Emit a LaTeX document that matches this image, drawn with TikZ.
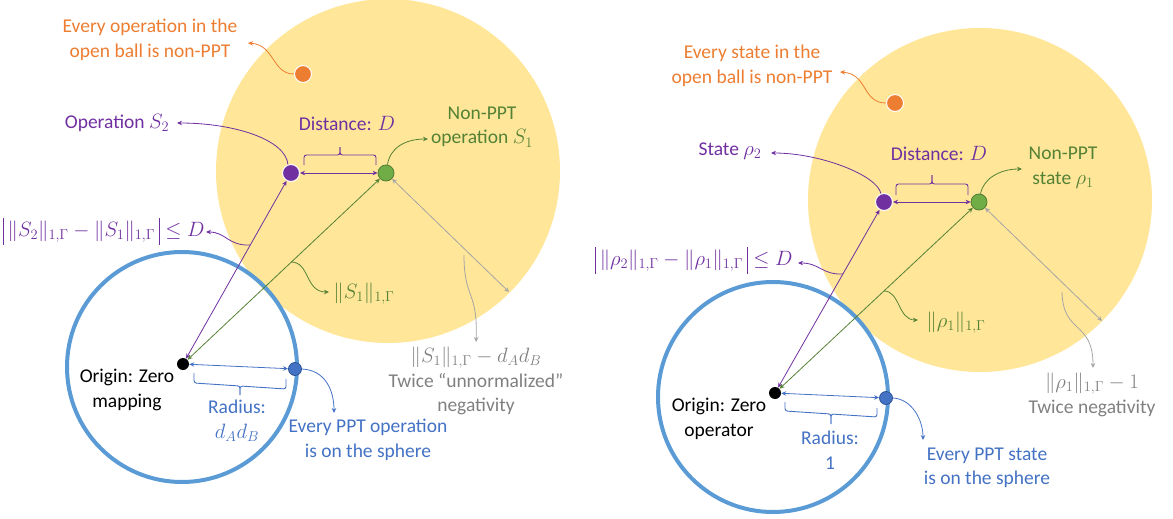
\documentclass[tikz,border=0pt]{standalone}
\usepackage{fontspec}
\setmainfont{Carlito}
\usetikzlibrary{arrows.meta,calc}
\definecolor{ylw}{HTML}{FFE699}
\definecolor{bcirc}{HTML}{5B9BD5}
\definecolor{purp}{HTML}{7030A0}
\definecolor{grn}{HTML}{548235}
\definecolor{grnf}{HTML}{70AD47}
\definecolor{grnd}{HTML}{507E32}
\definecolor{orng}{HTML}{ED7D31}
\definecolor{blu}{HTML}{4472C4}
\definecolor{blud}{HTML}{2F5597}
\definecolor{gryt}{HTML}{808080}
\definecolor{gryl}{HTML}{A5A5A5}
\newcommand{\tallbar}{{\vrule height 19pt depth 8pt width 0.9pt}}
\begin{document}
\begin{tikzpicture}[x=1pt,y=-1pt,
  txt/.style={font=\fontsize{19.5}{24.5}\selectfont, align=center, inner sep=1pt},
  dot/.style={circle, inner sep=0pt, minimum size=#1},
  tip/.style={line width=0.8pt,-{Stealth[length=5pt,width=4.5pt]}},
  dtip/.style={line width=0.8pt,{Stealth[length=5pt,width=4.5pt]}-{Stealth[length=5pt,width=4.5pt]}},
  bracket/.style={line width=0.9pt, rounded corners=2.5pt}]
\useasboundingbox (0,0) rectangle (1173,519);
% ---------- balls ----------
\fill[ylw] (388,171) circle[radius=172pt];
\fill[ylw] (980,200) circle[radius=172pt];
\draw[bcirc, line width=4pt] (182,367) circle[radius=115pt];
\draw[bcirc, line width=4pt] (773,397) circle[radius=115pt];

% ================= LEFT =================
\node[dot=17pt, fill=orng, draw=white, line width=1pt] (od) at (303,74) {};
\node[dot=17pt, fill=purp, draw=white, line width=1pt] (pd) at (291,173) {};
\node[dot=16pt, fill=grnf, draw=grnd, line width=0.8pt] (gd) at (386,173) {};
\node[dot=12pt, fill=black] (o) at (183,364) {};
\node[dot=13pt, fill=blu, draw=blud, line width=0.8pt] (bd) at (295,369) {};

\node[txt, orng] (otxt) at (150,40) {Every operation in the\\open ball is non-PPT};
\node[txt, purp] (s2txt) at (117,123) {Operation $S_2$};
\node[txt, purp] (dtxt) at (347,123) {Distance: $D$};
\node[txt, grn] (s1txt) at (482,127) {Non-PPT\\operation $S_1$};
\node[txt, purp] (abstxt) at (104,231) {$\tallbar\,\|S_2\|_{1,\Gamma}-\|S_1\|_{1,\Gamma}\,\tallbar\le D$};
\node[txt, grn] (n1txt) at (364,294) {$\|S_1\|_{1,\Gamma}$};
\node[txt, black] (origtxt) at (127,390) {Origin: Zero\\mapping};
\node[txt, blu] (radtxt) at (237,421) {Radius:\\$d_Ad_B$};
\node[txt, blu] (ppttxt) at (368,440) {Every PPT operation\\is on the sphere};
\node[txt, gryt] (negtxt) at (476,381) {$\|S_1\|_{1,\Gamma}-d_Ad_B$\\Twice “unnormalized”\\negativity};

\coordinate (gend) at (509,292);
\draw[purp, dtip] (pd) -- (o);
\draw[grn, dtip] (gd) -- (o);
\draw[gryl, dtip] (gd) -- (gend);
\draw[purp, dtip] (pd) -- (gd);
\draw[blu, dtip] (o) -- (bd);

\coordinate (oend) at (248,43);
\coordinate (s2end) at (177,123);
\coordinate (s1end) at (428,139);
\coordinate (absst) at (250,245);
\coordinate (absend) at (206,232);
\coordinate (n1st) at (291,262);
\coordinate (n1end) at (329,292);
\coordinate (gst) at (464,255);
\coordinate (gcend) at (476,342);
\coordinate (bend) at (334,413);
\draw[orng, tip] (od.west) .. controls (272,74) and (275,45) .. (oend);
\draw[purp, tip] (pd.110) .. controls (286,140) and (235,123) .. (s2end);
\draw[grn, tip] (gd.80) .. controls (390,148) and (405,139) .. (s1end);
\draw[purp, tip] (absst) .. controls (228,246) and (226,232) .. (absend);
\draw[grn, tip] (n1st) .. controls (310,262) and (305,292) .. (n1end);
\draw[gryl, tip] (gst) .. controls (464,300) and (478,290) .. (gcend);
\draw[blu, tip] (bd.east) .. controls (325,370) and (334,390) .. (bend);

\draw[purp, bracket] (304,165) -- (304,155) -- (340,155) -- (340,147);
\draw[purp, bracket] (376,165) -- (376,155) -- (340,155) -- (340,147);
\draw[blu, bracket] (194,373) -- (194,383) -- (240,386) -- (240,395);
\draw[blu, bracket] (286,379) -- (286,389) -- (240,386) -- (240,395);

% ================= RIGHT =================
\node[dot=17pt, fill=orng, draw=white, line width=1pt] (od2) at (895,103) {};
\node[dot=17pt, fill=purp, draw=white, line width=1pt] (pd2) at (884,202) {};
\node[dot=16pt, fill=grnf, draw=grnd, line width=0.8pt] (gd2) at (979,202) {};
\node[dot=12pt, fill=black] (o2) at (775,393) {};
\node[dot=13pt, fill=blu, draw=blud, line width=0.8pt] (bd2) at (886,398) {};

\node[txt, orng] (otxt2) at (752,66) {Every state in the\\open ball is non-PPT};
\node[txt, purp] (st2) at (730,151) {State $\rho_2$};
\node[txt, purp] (dtxt2) at (939,153) {Distance: $D$};
\node[txt, grn] (st1) at (1063,168) {Non-PPT\\state $\rho_1$};
\node[txt, purp] (abstxt2) at (694,260) {$\tallbar\,\|\rho_2\|_{1,\Gamma}-\|\rho_1\|_{1,\Gamma}\,\tallbar\le D$};
\node[txt, grn] (n1txt2) at (956,323) {$\|\rho_1\|_{1,\Gamma}$};
\node[txt, black] (origtxt2) at (719,419) {Origin: Zero\\operator};
\node[txt, blu] (radtxt2) at (830,450) {Radius:\\1};
\node[txt, blu] (ppttxt2) at (987,468) {Every PPT state\\is on the sphere};
\node[txt, gryt] (negtxt2) at (1092,395) {$\|\rho_1\|_{1,\Gamma}-1$\\Twice negativity};

\coordinate (gend2) at (1102,321);
\draw[purp, dtip] (pd2) -- (o2);
\draw[grn, dtip] (gd2) -- (o2);
\draw[gryl, dtip] (gd2) -- (gend2);
\draw[purp, dtip] (pd2) -- (gd2);
\draw[blu, dtip] (o2) -- (bd2);

\coordinate (oend2) at (840,72);
\coordinate (s2end2) at (771,153);
\coordinate (s1end2) at (1022,169);
\coordinate (absst2) at (843,274);
\coordinate (absend2) at (798,263);
\coordinate (n1st2) at (884,291);
\coordinate (n1end2) at (918,320);
\coordinate (gst2) at (1062,292);
\coordinate (gcend2) at (1093,368);
\coordinate (bend2) at (923,440);
\draw[orng, tip] (od2.west) .. controls (862,103) and (868,74) .. (oend2);
\draw[purp, tip] (pd2.110) .. controls (877,175) and (820,153) .. (s2end2);
\draw[grn, tip] (gd2.80) .. controls (983,180) and (998,169) .. (s1end2);
\draw[purp, tip] (absst2) .. controls (822,275) and (820,263) .. (absend2);
\draw[grn, tip] (n1st2) .. controls (900,291) and (898,320) .. (n1end2);
\draw[gryl, tip] (gst2) .. controls (1063,335) and (1093,320) .. (gcend2);
\draw[blu, tip] (bd2.east) .. controls (912,399) and (923,420) .. (bend2);

\draw[purp, bracket] (896,195) -- (896,184) -- (932,184) -- (932,175);
\draw[purp, bracket] (968,195) -- (968,184) -- (932,184) -- (932,175);
\draw[blu, bracket] (785,402) -- (785,411) -- (831,414) -- (831,424);
\draw[blu, bracket] (877,408) -- (877,417) -- (831,414) -- (831,424);
\end{tikzpicture}
\end{document}
